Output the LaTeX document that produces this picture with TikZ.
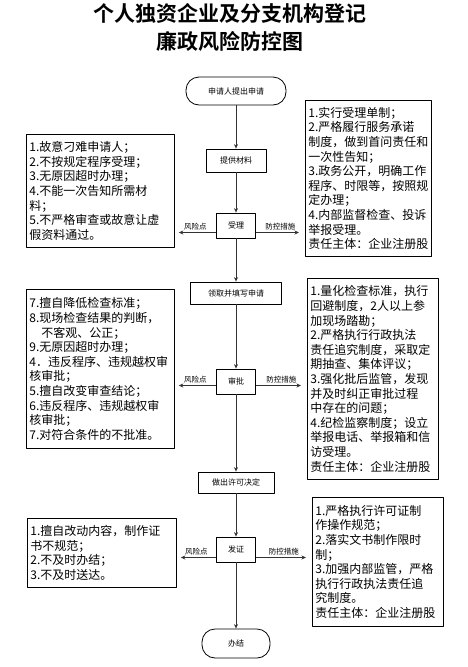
\documentclass[tikz,border=0pt]{standalone}
\usepackage{fontspec}
\setmainfont{Noto Sans CJK SC}[BoldFont={Noto Sans CJK SC Bold}]
\usetikzlibrary{arrows.meta}
\begin{document}
\begin{tikzpicture}[x=1pt, y=-1pt, line join=round,
	flow/.style={draw=black!80, line width=1pt, -{Stealth[length=4.5pt,width=4pt]}},
	stepbox/.style={draw, line width=0.8pt, inner sep=0pt, font=\fontsize{8}{9}\selectfont},
	endbox/.style={stepbox, rounded corners=13pt},
	notebox/.style={draw, line width=0.8pt, inner xsep=3pt, inner ysep=0pt, align=left, anchor=north west, font=\fontsize{12}{14.6}\selectfont},
	tag/.style={font=\fontsize{7.5}{9}\selectfont, inner sep=1.5pt}]
	\useasboundingbox (0,0) rectangle (468,667);
	\def\xc{236}
	% title
	\node[font=\fontsize{21}{24}\bfseries] (title1) at (230,13) {个人独资企业及分支机构登记};
	\node[font=\fontsize{21}{24}\bfseries] (title2) at (230,41) {廉政风险防控图};
	% main flow
	\node[endbox, minimum width=100pt, minimum height=28pt] (start) at (\xc,91) {申请人提出申请};
	\node[stepbox, minimum width=60pt, minimum height=23pt] (tigong) at (\xc,160.5) {提供材料};
	\node[stepbox, minimum width=39pt, minimum height=25pt] (shouli) at (\xc,225.5) {受理};
	\node[stepbox, minimum width=91pt, minimum height=22pt] (lingqu) at (\xc,293) {领取并填写申请};
	\node[stepbox, minimum width=39pt, minimum height=25pt] (shenpi) at (\xc,381.5) {审批};
	\node[stepbox, minimum width=76pt, minimum height=21pt] (zuochu) at (\xc,482.5) {做出许可决定};
	\node[stepbox, minimum width=39pt, minimum height=25pt] (fazheng) at (\xc,549.5) {发证};
	\node[endbox, minimum width=68pt, minimum height=29pt] (banjie) at (\xc,643.5) {办结};
	\foreach \a/\b in {start/tigong, tigong/shouli, shouli/lingqu, lingqu/shenpi, shenpi/zuochu, zuochu/fazheng, fazheng/banjie}{
		\draw[flow] (\a) -- (\b);
	}
	% risk points
	\node[notebox, text width=142pt, minimum height=113pt] (risk1) at (26,134) {1.故意刁难申请人；\\2.不按规定程序受理；\\3.无原因超时办理；\\4.不能一次告知所需材\\料；\\5.不严格审查或故意让虚\\假资料通过。};
	\node[notebox, text width=142pt, minimum height=159pt] (risk2) at (26,289) {7.擅自降低检查标准；\\8.现场检查结果的判断，\\\hspace*{1em}不客观、公正；\\9.无原因超时办理；\\4．违反程序、违规越权审\\核审批；\\5.擅自改变审查结论；\\6.违反程序、违规越权审\\核审批；\\7.对符合条件的不批准。};
	\node[notebox, text width=143pt, minimum height=69pt] (risk3) at (27,518) {1.擅自改动内容，制作证\\书不规范；\\2.不及时办结；\\3.不及时送达。};
	% control measures
	\node[notebox, text width=120pt, minimum height=156pt] (ctrl1) at (305,100) {1.实行受理单制；\\2.严格履行服务承诺\\制度，做到首问责任和\\一次性告知；\\3.政务公开，明确工作\\程序、时限等，按照规\\定办理；\\4.内部监督检查、投诉\\举报受理。\\责任主体：企业注册股};
	\node[notebox, text width=125pt, minimum height=201pt] (ctrl2) at (307,278) {1.量化检查标准，执行\\回避制度，2人以上参\\加现场踏勘；\\2.严格执行行政执法\\责任追究制度，采取定\\期抽查、集体评议；\\3.强化批后监管，发现\\并及时纠正审批过程\\中存在的问题；\\4.纪检监察制度；设立\\举报电话、举报箱和信\\访受理。\\责任主体：企业注册股};
	\node[notebox, text width=125pt, minimum height=129pt] (ctrl3) at (312,497) {1.严格执行许可证制\\作操作规范；\\2.落实文书制作限时\\制；\\3.加强内部监管，严格\\执行行政执法责任追\\究制度。\\责任主体：企业注册股};
	% side arrows
	\foreach \n/\r/\c/\s in {shouli/risk1/ctrl1/-7, shenpi/risk2/ctrl2/-4, fazheng/risk3/ctrl3/-8}{
		\draw[flow, shorten >=4pt] ([yshift=\s pt]\n.west) -- ([yshift=\s pt]\n.west -| \r.east) node[tag, midway, above] {风险点};
		\draw[flow, shorten >=6pt] ([yshift=\s pt]\n.east) -- ([yshift=\s pt]\n.east -| \c.west) node[tag, midway, above] {防控措施};
	}
\end{tikzpicture}
\end{document}
